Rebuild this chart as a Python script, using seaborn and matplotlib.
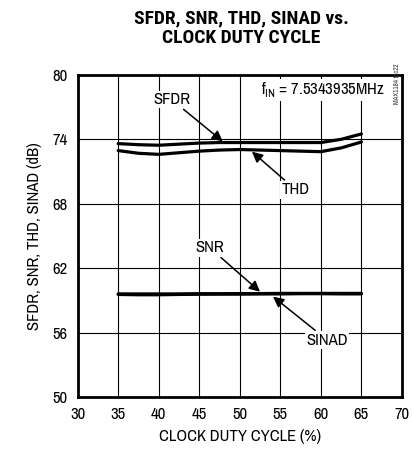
import numpy as np
import pandas as pd
import matplotlib
matplotlib.use("Agg")
import matplotlib.pyplot as plt
import seaborn as sns

# valores
duty = [35, 37.5, 40, 42.5, 45, 47.5, 50, 52.5, 55, 57.5, 60, 62.5, 65]
sfdr = [73.6, 73.5, 73.45, 73.55, 73.65, 73.7, 73.7, 73.7, 73.7, 73.7, 73.7, 74.0, 74.5]
thd = [72.95, 72.7, 72.6, 72.75, 72.9, 73.0, 73.05, 73.0, 72.95, 72.9, 72.85, 73.2, 73.75]
snr = [59.6, 59.6, 59.6, 59.6, 59.62, 59.62, 59.63, 59.63, 59.65, 59.65, 59.65, 59.65, 59.65]
sinad = [59.55, 59.52, 59.52, 59.55, 59.57, 59.58, 59.58, 59.6, 59.6, 59.62, 59.62, 59.6, 59.6]

xticks = [30, 35, 40, 45, 50, 55, 60, 65, 70]
yticks = [50, 56, 62, 68, 74, 80]

df = pd.DataFrame({"duty": duty * 4,
                   "val": sfdr + thd + snr + sinad,
                   "serie": ["SFDR"] * 13 + ["THD"] * 13 + ["SNR"] * 13 + ["SINAD"] * 13})

sns.set_style("white")
plt.rcParams['font.family'] = ['Archivo Narrow', 'DejaVu Sans']
plt.rcParams['text.color'] = 'black'
plt.rcParams['axes.labelcolor'] = 'black'
plt.rcParams['xtick.color'] = 'black'
plt.rcParams['ytick.color'] = 'black'
plt.rcParams['mathtext.fontset'] = 'custom'
plt.rcParams['mathtext.rm'] = 'Archivo Narrow'

fig = plt.figure(figsize=(4.12, 4.54), dpi=100)
ax = fig.add_axes([0.1885, 0.1256, 0.787, 0.7094])

sns.lineplot(data=df, x="duty", y="val", units="serie", estimator=None,
             color="black", lw=2.3, ax=ax, legend=False)

ax.set_xlim(30, 70)
ax.set_ylim(50, 80)
ax.set_xticks(xticks)
ax.set_yticks(yticks)
ax.grid(True, color="black", lw=0.8)
for s in ax.spines.values():
    s.set_color("black")
    s.set_linewidth(2)
ax.tick_params(length=0, labelsize=12, pad=7)
ax.set_xlabel("CLOCK DUTY CYCLE (%)", fontsize=12, labelpad=5)
ax.set_ylabel("SFDR, SNR, THD, SINAD (dB)", fontsize=12, labelpad=8)

fig.text(0.585, 0.98, "SFDR, SNR, THD, SINAD vs.\nCLOCK DUTY CYCLE", ha="center", va="top",
         fontsize=14, fontweight="heavy", linespacing=1.15,
         family=['Roboto Condensed', 'Archivo Narrow', 'DejaVu Sans'])

ax.text(60.2, 78.6, r"f$_{\rm IN}$ = 7.5343935MHz", ha="center", va="center", fontsize=12,
        bbox=dict(fc="white", ec="none", pad=1))

arr = dict(arrowstyle="-|>", color="black", lw=1.1, mutation_scale=16, shrinkA=1, shrinkB=0)
bb = dict(fc="white", ec="none", pad=1)
ax.annotate("SFDR", xy=(47.9, 73.8), xytext=(41.6, 77.7), ha="center", va="center",
            fontsize=12, arrowprops=arr, bbox=bb)
ax.annotate("THD", xy=(51.5, 72.85), xytext=(56.9, 69.3), ha="center", va="center",
            fontsize=12, arrowprops=arr, bbox=bb)
ax.annotate("SNR", xy=(52.5, 59.8), xytext=(46.3, 63.9), ha="center", va="center",
            fontsize=12, arrowprops=arr, bbox=bb)
ax.annotate("SINAD", xy=(54.1, 59.35), xytext=(60.8, 55.3), ha="center", va="center",
            fontsize=12, arrowprops=arr, bbox=bb)

fig.text(0.963, 0.815, "MAX1184 toc22", rotation=90, ha="center", va="center",
         fontsize=5, color="#333333")

fig.savefig("out.png", dpi=100)
